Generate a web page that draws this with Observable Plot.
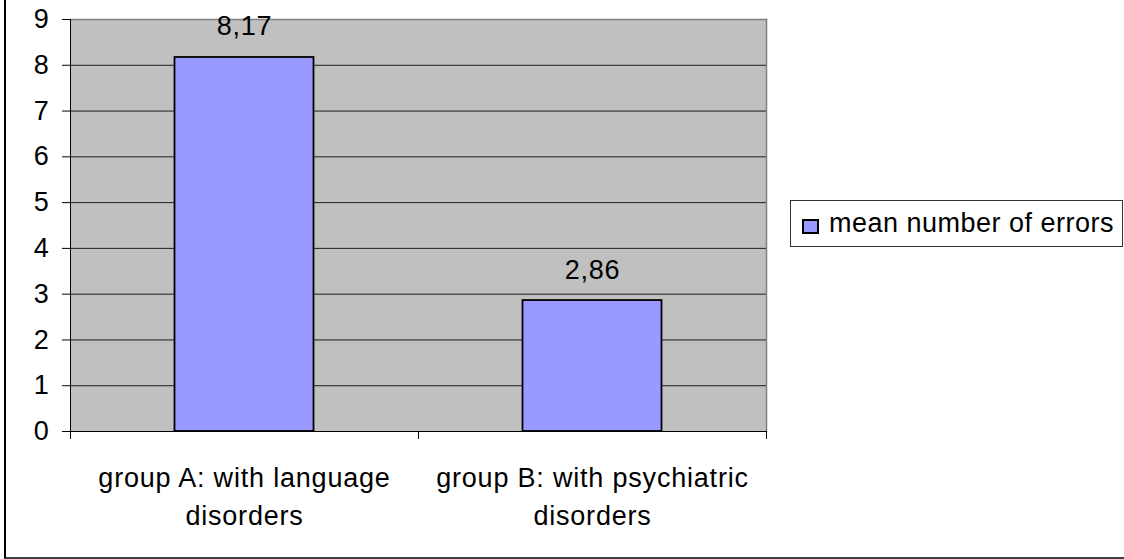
<!DOCTYPE html>
<html>
<head>
<meta charset="utf-8">
<script src="https://cdn.jsdelivr.net/npm/d3@7"></script>
<script src="https://cdn.jsdelivr.net/npm/@observablehq/plot@0.6"></script>
<style>
  html, body { margin: 0; padding: 0; background: #fff; overflow: hidden; }
  #wrap { position: relative; width: 1124px; height: 559px; font-family: "Liberation Sans", Arial, sans-serif; }
  #border { position: absolute; left: 4px; top: -10px; width: 1200px; height: 569px; border-left: 2px solid #000; border-bottom: 2px solid #404040; box-sizing: border-box; pointer-events: none; }
  #legend { position: absolute; left: 790px; top: 200px; width: 333px; height: 47px; border: 1px solid #333; box-sizing: border-box; background: #fff; display: flex; align-items: center; font-size: 27px; letter-spacing: 0.5px; color: #000; }
  #legend .sw { width: 17px; height: 15px; box-sizing: border-box; background: #9999FF; border: 2px solid #000; margin-left: 11px; margin-right: 10px; flex: none; margin-top: 5px; }
</style>
</head>
<body>
<div id="wrap">
  <div id="chart"></div>
  <div id="legend"><span class="sw"></span><span id="legendText"></span></div>
  <div id="border"></div>
</div>
<script>
const categories = ["group A: with language\ndisorders", "group B: with psychiatric\ndisorders"];
const values = [8.17, 2.86];
const seriesName = "mean number of errors";
const yTicks = [0, 1, 2, 3, 4, 5, 6, 7, 8, 9];

const data = categories.map((c, i) => ({i, category: c, value: values[i]}));
const fmt = v => v.toFixed(2).replace(".", ",");

document.getElementById("legendText").textContent = seriesName;

const chart = Plot.plot({
  width: 1124,
  height: 559,
  marginLeft: 70,
  marginRight: 358,
  marginTop: 19,
  marginBottom: 128,
  style: {fontFamily: "Liberation Sans, Arial, sans-serif", fontSize: "27px", letterSpacing: "0.8px", background: "transparent", color: "#000"},
  x: {domain: [0, categories.length], axis: null},
  y: {domain: [0, 9], axis: null},
  marks: [
    Plot.frame({fill: "#C0C0C0", stroke: null}),
    Plot.gridY(yTicks.filter(t => t > 0 && t < 9), {stroke: "#000", strokeOpacity: 0.85, strokeWidth: 1}),
    Plot.frame({anchor: "top", stroke: "#808080", strokeWidth: 1.5}),
    Plot.frame({anchor: "right", stroke: "#808080", strokeWidth: 1.5}),
    Plot.rectY(data, {x1: d => d.i, x2: d => d.i + 1, y1: 0, y2: "value", insetLeft: 104.5, insetRight: 104.5, fill: "#9999FF", stroke: "#000", strokeWidth: 1.8}),
    Plot.frame({anchor: "left", stroke: "#000", strokeWidth: 1}),
    Plot.frame({anchor: "bottom", stroke: "#000", strokeWidth: 1}),
    Plot.axisY({ticks: yTicks, tickSize: 8, tickPadding: 13, fontSize: 27, label: null, tickFormat: d => String(d)}),
    Plot.axisX({ticks: d3.range(0, categories.length + 1), tickSize: 8, tickFormat: () => "", label: null}),
    Plot.text(data, {x: d => d.i + 0.5, y: 0, text: "category", lineAnchor: "top", dy: 29.5, lineHeight: 1.38, fontSize: 27, fill: "#000"}),
    Plot.text(data, {x: d => d.i + 0.5, y: "value", text: d => fmt(d.value), lineAnchor: "bottom", dy: -22, fontSize: 27, fill: "#000"})
  ]
});
document.getElementById("chart").appendChild(chart);
</script>
</body>
</html>
